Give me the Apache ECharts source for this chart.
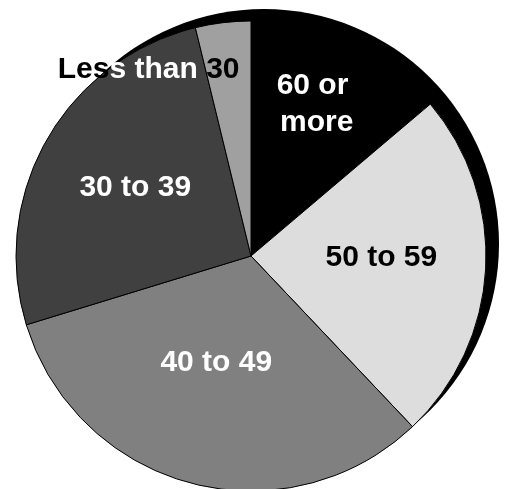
<!DOCTYPE html>
<html>
<head>
<meta charset="utf-8">
<style>
html,body{margin:0;padding:0;background:#fff;}
#chart{width:511px;height:489px;}
</style>
<script src="https://cdn.jsdelivr.net/npm/echarts@6/dist/echarts.min.js"></script>
</head>
<body>
<div id="chart"></div>
<script>
// Data (clockwise from 12 o'clock)
const categories = ['60 or more', '50 to 59', '40 to 49', '30 to 39', 'Less than 30'];
const values = [13.8, 24.1, 32.3, 25.9, 3.8];

// Styles
const sliceColors = ['#000000', '#dddddd', '#808080', '#404040', '#a0a0a0'];
const labelColors = ['#ffffff', '#000000', '#ffffff', '#ffffff', '#000000'];
const labelShift = [[15, -42], [10, -5], [-4, -10], [-11, -9], [-88, -67]];

const font = {fontFamily: 'Liberation Sans, Arial, sans-serif', fontWeight: 'bold', fontSize: 30};

const chart = echarts.init(document.getElementById('chart'), null, {renderer: 'canvas'});
chart.setOption({
  backgroundColor: '#ffffff',
  animation: false,
  series: [
    {
      type: 'pie',
      silent: true,
      center: [264, 244],
      radius: 235,
      z: 1,
      label: {show: false},
      labelLine: {show: false},
      itemStyle: {color: '#000000', borderWidth: 0},
      data: [{value: 1, name: ''}]
    },
    {
      type: 'pie',
      center: [251, 256],
      radius: 235,
      startAngle: 90,
      clockwise: true,
      z: 2,
      itemStyle: {borderColor: '#000000', borderWidth: 1},
      label: Object.assign({
        show: true,
        position: 'inside',
        lineHeight: 37,
        align: 'center',
        formatter: function (p) {
          if (p.name === '60 or more') return '60 or \nmore';
          if (p.name === 'Less than 30') return '{k|Les}{w|s than}{k| 30}';
          return p.name;
        },
        rich: {
          k: Object.assign({color: '#000000'}, font),
          w: Object.assign({color: '#ffffff'}, font)
        }
      }, font),
      labelLine: {show: false},
      labelLayout: function (p) {
        const s = labelShift[p.dataIndex];
        return {dx: s[0], dy: s[1]};
      },
      data: categories.map(function (c, i) {
        return {
          name: c,
          value: values[i],
          itemStyle: {color: sliceColors[i]},
          label: {color: labelColors[i]}
        };
      })
    }
  ]
});
</script>
</body>
</html>
